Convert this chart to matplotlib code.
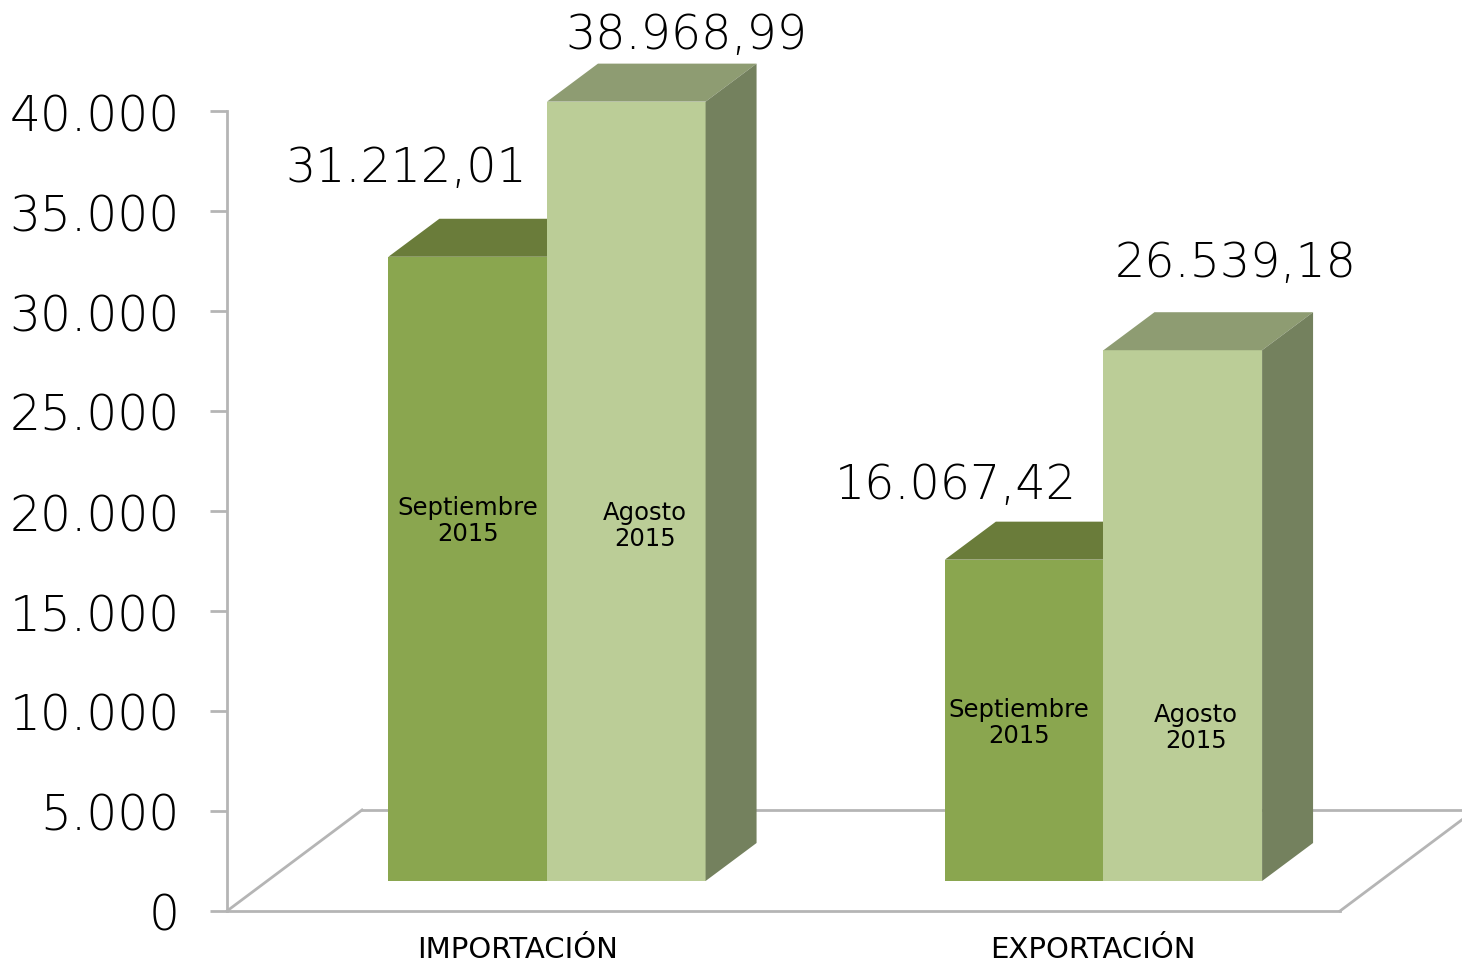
import matplotlib
matplotlib.use("Agg")
import matplotlib.pyplot as plt
from matplotlib.patches import Polygon
from matplotlib.ticker import FuncFormatter

# data
categories = ["IMPORTACIÓN", "EXPORTACIÓN"]
series_names = ["Septiembre\n2015", "Agosto\n2015"]
septiembre = [31212.01, 16067.42]
agosto = [38968.99, 26539.18]
yticks = [0, 5000, 10000, 15000, 20000, 25000, 30000, 35000, 40000]

# colours
sep_front, sep_top = "#8aa64f", "#6a7c3a"
ago_front, ago_top, ago_side = "#bbcd97", "#8e9c72", "#74815e"
grey = "#b5b5b5"

# pseudo-3d geometry (axis units)
W = 0.285            # bar width
FLOOR_DX, FLOOR_DY = 0.2426, 5050
FRONT_DX, FRONT_DY = 0.075, 1500
BAR_DX, BAR_DY = 0.0916, 1900


def fmt_es(v, dec=2):
    s = f"{v:,.{dec}f}"
    return s.replace(",", "X").replace(".", ",").replace("X", ".")


fig = plt.figure(figsize=(14.62, 9.62), dpi=100)
ax = fig.add_axes([227 / 1462, 50 / 962, 1113 / 1462, 800 / 962])
ax.set_xlim(0, 2)
ax.set_ylim(0, 40000)
for s in ["top", "right", "bottom"]:
    ax.spines[s].set_visible(False)
ax.spines["left"].set_color(grey)
ax.spines["left"].set_linewidth(2)
ax.set_xticks([])
ax.set_yticks(yticks)
ax.yaxis.set_major_formatter(FuncFormatter(lambda v, p: fmt_es(v, 0)))
ax.tick_params(axis="y", length=12, width=2, color=grey, pad=22,
               labelsize=35, labelcolor="black")
for lab in ax.get_yticklabels():
    lab.set_fontweight("light")

# floor
fl = dict(color=grey, lw=2, clip_on=False, zorder=1)
ax.plot([0, 2], [0, 0], **fl)
ax.plot([0, FLOOR_DX], [0, FLOOR_DY], **fl)
ax.plot([2, 2 + FLOOR_DX], [0, FLOOR_DY], **fl)
ax.plot([FLOOR_DX, 2 + FLOOR_DX], [FLOOR_DY, FLOOR_DY], **fl)


def bar3d(x0, h, front, top, side, z):
    x0 = x0 + FRONT_DX
    b = FRONT_DY
    t = FRONT_DY + h
    x1 = x0 + W
    faces = [
        ([(x0, b), (x1, b), (x1, t), (x0, t)], front),
        ([(x0, t), (x1, t), (x1 + BAR_DX, t + BAR_DY), (x0 + BAR_DX, t + BAR_DY)], top),
        ([(x1, b), (x1 + BAR_DX, b + BAR_DY), (x1 + BAR_DX, t + BAR_DY), (x1, t)], side),
    ]
    for pts, c in faces:
        ax.add_patch(Polygon(pts, closed=True, facecolor=c, edgecolor="none",
                             clip_on=False, zorder=z))


# label layout
val_off = [[(-44.6, 54.7), (43.2, 38.9)], [(-49.0, 44.6), (38.2, 53.3)]]
inner_y = [[18050, 17800], [7950, 7700]]
inner_dx = [[0.0, 0.034], [-0.009, 0.023]]
cat_x = [0.523, 1.556]

for i, cat in enumerate(categories):
    c = i + 0.5
    vals = [septiembre[i], agosto[i]]
    cols = [(sep_front, sep_top, sep_top), (ago_front, ago_top, ago_side)]
    for j in range(2):
        x0 = c - W + j * W
        bar3d(x0, vals[j], *cols[j], z=2 + j)
        xc = x0 + W / 2 + FRONT_DX
        ax.annotate(fmt_es(vals[j]), xy=(xc, vals[j] + FRONT_DY),
                    xytext=val_off[i][j], textcoords="offset points",
                    ha="center", va="baseline", fontsize=34.3, zorder=6,
                    fontweight="light", annotation_clip=False)
        ax.text(xc + inner_dx[i][j], inner_y[i][j] + FRONT_DY, series_names[j],
                ha="center", va="center", fontsize=17.5, zorder=6,
                linespacing=1.15)
    ax.text(cat_x[i], -2300, cat, ha="center", va="baseline", fontsize=21,
            clip_on=False)

fig.savefig("out.png", dpi=100)
